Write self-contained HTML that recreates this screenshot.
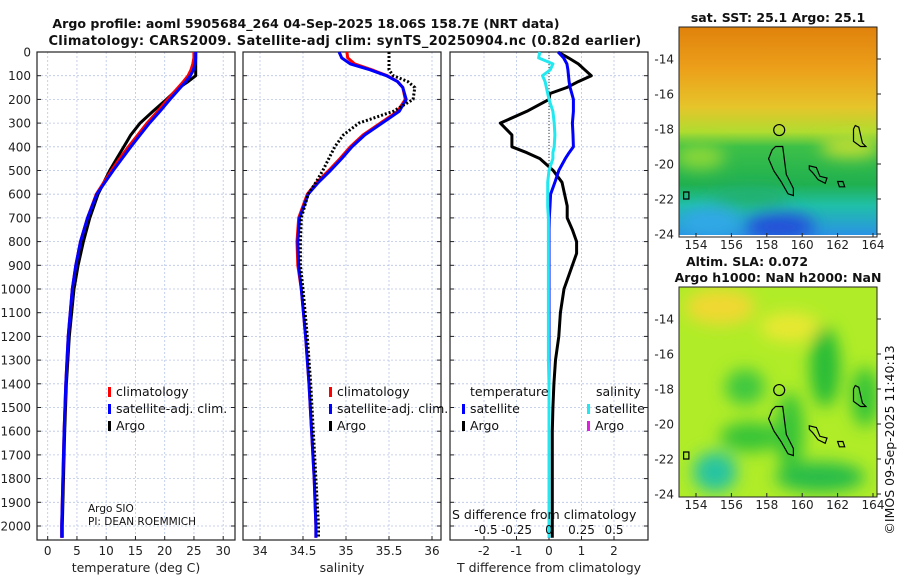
<!DOCTYPE html>
<html><head><meta charset="utf-8"><style>
body{margin:0;background:#fff;}
svg{display:block;font-family:"DejaVu Sans","Liberation Sans",sans-serif;}
</style></head><body>
<svg id="fig" width="900" height="580" viewBox="0 0 900 580" xmlns="http://www.w3.org/2000/svg">
<defs>
<linearGradient id="sstg" x1="0" y1="0" x2="0" y2="1">
<stop offset="0" stop-color="#e0820c"/><stop offset="0.2" stop-color="#eca01a"/><stop offset="0.38" stop-color="#e6c42a"/><stop offset="0.5" stop-color="#b0dc30"/><stop offset="0.57" stop-color="#3cc048"/><stop offset="0.75" stop-color="#20b050"/><stop offset="0.85" stop-color="#20c0a8"/><stop offset="1" stop-color="#2a90e8"/>
</linearGradient>
<filter id="blur" x="-50%" y="-50%" width="200%" height="200%"><feGaussianBlur stdDeviation="8"/></filter>
<clipPath id="clipTop"><rect x="679" y="27" width="198" height="208"/></clipPath>
<clipPath id="clipBot"><rect x="679" y="287" width="198" height="210"/></clipPath>
</defs>
<g id="root"></g>
</svg>
<script>
// ---- data ----
const depths   = [0,25,50,75,100,125,150,200,250,300,350,400,450,500,550,600,700,800,900,1000,1200,1400,1600,1800,2000,2050];
const tempClim = [25.0,25.0,24.8,24.5,24.0,23.2,22.3,20.5,18.8,17.0,15.4,13.8,12.3,10.9,9.6,8.3,6.8,5.6,4.8,4.2,3.5,3.1,2.8,2.6,2.4,2.4];
const tempSat  = [25.3,25.3,25.2,24.9,24.4,23.6,22.7,20.9,19.2,17.4,15.8,14.2,12.7,11.2,9.8,8.4,6.8,5.6,4.8,4.2,3.5,3.1,2.8,2.6,2.4,2.4];
const tempArgo = [25.3,25.3,25.3,25.3,25.3,24.0,22.5,20.3,18.0,15.8,14.2,13.0,11.8,10.6,9.6,8.6,7.2,6.1,5.2,4.5,3.7,3.2,2.9,2.7,2.5,2.5];
const salClim  = [35.01,35.02,35.1,35.3,35.48,35.6,35.66,35.69,35.6,35.4,35.2,35.05,34.93,34.8,34.66,34.55,34.45,34.43,34.44,34.48,34.53,34.57,34.6,34.63,34.65,34.65];
const salSat   = [34.92,34.95,35.05,35.28,35.47,35.6,35.66,35.7,35.62,35.42,35.22,35.07,34.95,34.82,34.68,34.56,34.46,34.44,34.45,34.48,34.53,34.57,34.6,34.63,34.65,34.65];
const salArgo  = [35.5,35.5,35.5,35.5,35.55,35.72,35.8,35.78,35.55,35.15,34.97,34.87,34.8,34.73,34.65,34.56,34.48,34.47,34.47,34.5,34.55,34.59,34.62,34.65,34.68,34.68];
const dDepths  = [0,25,50,75,100,125,150,175,200,250,300,350,400,425,450,500,550,600,650,700,750,800,850,900,1000,1100,1200,1300,1400,1500,1600,1800,2000,2050];
const dTArgo   = [0.28,0.6,0.9,1.1,1.3,0.9,0.55,0.03,0.0,-0.68,-1.5,-1.14,-1.14,-0.68,-0.28,0.13,0.4,0.48,0.56,0.56,0.72,0.85,0.85,0.72,0.46,0.35,0.3,0.2,0.15,0.12,0.1,0.1,0.1,0.1];
const dTSat    = [0.28,0.45,0.55,0.58,0.6,0.62,0.65,0.7,0.75,0.75,0.72,0.74,0.75,0.62,0.5,0.3,0.18,0.05,0.03,0.01,0.0,0.0,0.0,0.0,0.0,0.0,0.0,0.0,0.0,0.0,0.0,0.0,0.0,0.0];
const dSSat    = [-0.07,-0.08,0.03,0.01,-0.05,-0.03,-0.02,-0.01,0.0,0.03,0.04,0.045,0.04,0.03,0.03,0.0,-0.01,-0.01,-0.01,-0.005,-0.005,-0.005,-0.005,-0.005,-0.005,-0.005,-0.005,-0.005,0.0,0.0,0.0,0.0,0.0,0.0];
const depthTicks = [0,100,200,300,400,500,600,700,800,900,1000,1100,1200,1300,1400,1500,1600,1700,1800,1900,2000];
const tTicks = [0,5,10,15,20,25,30];
const sTicks = [34,34.5,35,35.5,36];
const dTicks = [-2,-1,0,1,2];
const dTickLabels = ["-2","-1","0","1","2"];
const sdTickLabels = ["-0.5","-0.25","0","0.25","0.5"];
const latTicks = [-14,-16,-18,-20,-22,-24];
const lonTicks = [154,156,158,160,162,164];

const NS="http://www.w3.org/2000/svg";
const root=document.getElementById('root');
function el(tag,attrs,parent,txt){const e=document.createElementNS(NS,tag);for(const k in attrs)e.setAttribute(k,attrs[k]);if(txt!==undefined)e.textContent=txt;(parent||root).appendChild(e);return e;}

const yTop=52, yPer=0.237;
const yD=d=>yTop+d*yPer;
const PBOT=540;
const panels=[
 {x0:37,x1:235,xs:v=>47.7+v*5.85,ticks:tTicks,labels:tTicks.map(String),title:"temperature (deg C)",name:"temperature"},
 {x0:243,x1:441,xs:v=>260+(v-34)*86,ticks:sTicks,labels:["34","34.5","35","35.5","36"],title:"salinity",name:"salinity"},
 {x0:450,x1:648,xs:v=>549+v*32.5,ticks:dTicks,labels:dTickLabels,title:"T difference from climatology",name:"difference"}
];
const sdx=v=>549+v*130;

panels.forEach((p,i)=>{
 const g=el('g',{});  
 depthTicks.forEach(d=>{el('line',{x1:p.x0,x2:p.x1,y1:yD(d),y2:yD(d),stroke:'#b8c4e8','stroke-width':0.8,'stroke-dasharray':'2,2'},g);});
 p.ticks.forEach(t=>{el('line',{x1:p.xs(t),x2:p.xs(t),y1:yTop,y2:PBOT,stroke:'#b8c4e8','stroke-width':0.8,'stroke-dasharray':'2,2'},g);});
 el('rect',{x:p.x0,y:yTop,width:p.x1-p.x0,height:PBOT-yTop,fill:'none',stroke:'#222','stroke-width':1.2},g);
 depthTicks.forEach(d=>{el('line',{x1:p.x0,x2:p.x0+4,y1:yD(d),y2:yD(d),stroke:'#222'},g);el('line',{x1:p.x1-4,x2:p.x1,y1:yD(d),y2:yD(d),stroke:'#222'},g);});
 p.ticks.forEach((t,k)=>{el('line',{x1:p.xs(t),x2:p.xs(t),y1:PBOT-4,y2:PBOT,stroke:'#222'},g);
   const tl=el('text',{x:p.xs(t),y:555,'font-size':12,'text-anchor':'middle',fill:'#222'},g,p.labels[k]);  });
 const tt=el('text',{x:(p.x0+p.x1)/2,y:572,'font-size':12.5,'text-anchor':'middle',fill:'#222'},g,p.title);
  
});
depthTicks.forEach(d=>{const t=el('text',{x:31,y:yD(d)+4.5,'font-size':12,'text-anchor':'end',fill:'#222'},root,String(d));});

function line(xs,vals,ds,attrs,name){
 const pts=vals.map((v,i)=>xs(v).toFixed(1)+','+yD(ds[i]).toFixed(1)).join(' ');
 const pl=el('polyline',Object.assign({points:pts,fill:'none','stroke-linejoin':'round'},attrs));
  
}
const P=panels;
line(P[0].xs,tempArgo,depths,{stroke:'#000','stroke-width':3},'temp-argo-line');
line(P[0].xs,tempClim,depths,{stroke:'#f00','stroke-width':3},'temp-climatology-line');
line(P[0].xs,tempSat,depths,{stroke:'#00f','stroke-width':3},'temp-satellite-line');
line(P[1].xs,salClim,depths,{stroke:'#f00','stroke-width':3},'sal-climatology-line');
line(P[1].xs,salSat,depths,{stroke:'#00f','stroke-width':3},'sal-satellite-line');
line(P[1].xs,salArgo,depths,{stroke:'#000','stroke-width':3,'stroke-dasharray':'2,2'},'sal-argo-line');
el('line',{x1:549,x2:549,y1:yTop,y2:yD(520),stroke:'#333','stroke-width':1,'stroke-dasharray':'1,2'});
line(P[2].xs,dTArgo,dDepths,{stroke:'#000','stroke-width':3},'tdiff-argo-line');
line(P[2].xs,dTSat,dDepths,{stroke:'#00f','stroke-width':3},'tdiff-satellite-line');
line(sdx,dSSat,dDepths,{stroke:'#22e8f0','stroke-width':3},'sdiff-satellite-line');

function legend(x,y,color,label,name){
 const g=el('g',{});  
 el('rect',{x:x,y:y-9,width:3,height:10,fill:color},g);
 el('text',{x:x+8,y:y,'font-size':12.5,fill:'#111'},g,label);
}
legend(108,396,'#f00','climatology','legend-climatology');
legend(108,413,'#00f','satellite-adj. clim.','legend-satellite');
legend(108,430,'#000','Argo','legend-argo');
legend(329,396,'#f00','climatology','legend-sal-climatology');
legend(329,413,'#00f','satellite-adj. clim.','legend-sal-satellite');
legend(329,430,'#000','Argo','legend-sal-argo');
el('text',{x:470,y:396,'font-size':12.5,fill:'#111'},root,'temperature');
el('text',{x:596,y:396,'font-size':12.5,fill:'#111'},root,'salinity');
legend(462,413,'#00f','satellite','legend-tdiff-satellite');
legend(462,430,'#000','Argo','legend-tdiff-argo');
legend(587,413,'#22e8f0','satellite','legend-sdiff-satellite');
legend(587,430,'#e020e0','Argo','legend-sdiff-argo');
el('text',{x:88,y:512,'font-size':10.5,fill:'#111'},root,'Argo SIO');
el('text',{x:88,y:525,'font-size':10.5,fill:'#111'},root,'PI: DEAN ROEMMICH');
el('text',{x:452,y:519,'font-size':12.5,fill:'#111'},root,'S difference from climatology');
dTicks.forEach((t,k)=>{el('text',{x:P[2].xs(t)+ (k==0?2:0),y:534,'font-size':12,'text-anchor':'middle',fill:'#111'},root,sdTickLabels[k]);});

const t1=el('text',{x:306,y:28,'font-size':12.6,'font-weight':'bold','text-anchor':'middle',fill:'#111'},root,'Argo profile: aoml 5905684_264 04-Sep-2025 18.06S 158.7E (NRT data)');
 
const t2=el('text',{x:345,y:45,'font-size':13,'font-weight':'bold','text-anchor':'middle','letter-spacing':'0.3',fill:'#111'},root,'Climatology: CARS2009. Satellite-adj clim: synTS_20250904.nc (0.82d earlier)');
 

const lonX=lon=>696+(lon-154)*17.7;
function drawMap(top,clip,kind,titleLines){
 const latY=lat=>top+32+(-14-lat)*17.5;
 const g=el('g',{'clip-path':'url(#'+clip+')'});
  
 if(kind==='sst'){
  el('rect',{x:679,y:top,width:198,height:210,fill:'url(#sstg)'},g);
  const b=el('g',{filter:'url(#blur)'},g);
  el('ellipse',{cx:780,cy:top+200,rx:35,ry:14,fill:'#2050d8'},b);
  el('ellipse',{cx:710,cy:top+195,rx:30,ry:14,fill:'#30a8e8'},b);
  el('ellipse',{cx:700,cy:top+130,rx:25,ry:12,fill:'#8cd838'},b);
  el('ellipse',{cx:850,cy:top+120,rx:30,ry:10,fill:'#c8e030'},b);
  el('ellipse',{cx:750,cy:top+170,rx:40,ry:10,fill:'#20b070'},b);
 } else {
  el('rect',{x:679,y:top,width:198,height:210,fill:'#b0ec28'},g);
  const b=el('g',{filter:'url(#blur)'},g);
  el('ellipse',{cx:720,cy:top+20,rx:35,ry:18,fill:'#f0d830'},b);
  el('ellipse',{cx:790,cy:top+40,rx:30,ry:15,fill:'#e8e830'},b);
  el('ellipse',{cx:745,cy:top+100,rx:20,ry:18,fill:'#40c840'},b);
  el('ellipse',{cx:825,cy:top+80,rx:15,ry:40,fill:'#28bc38'},b);
  el('ellipse',{cx:865,cy:top+110,rx:14,ry:30,fill:'#38c438'},b);
  el('ellipse',{cx:715,cy:top+185,rx:22,ry:20,fill:'#28c4a0'},b);
  el('ellipse',{cx:750,cy:top+150,rx:30,ry:15,fill:'#38c438'},b);
  el('ellipse',{cx:820,cy:top+190,rx:45,ry:15,fill:'#28bc48'},b);
  el('ellipse',{cx:790,cy:top+145,rx:14,ry:40,fill:'#38c438'},b);
 }
 const coast=[[[158.5,-19.0],[158.9,-19.0],[159.0,-19.8],[159.1,-20.6],[159.5,-21.4],[159.5,-21.8],[159.2,-21.7],[158.8,-21.0],[158.4,-20.4],[158.1,-19.7],[158.3,-19.2]],
  [[160.4,-20.1],[160.8,-20.2],[161.0,-20.7],[161.4,-20.8],[161.3,-21.1],[160.9,-20.9],[160.6,-20.5],[160.4,-20.3]],
  [[163.0,-17.8],[163.2,-17.9],[163.4,-18.8],[163.6,-19.0],[163.3,-19.0],[162.9,-18.7],[162.9,-18.0]],
  [[162.0,-21.0],[162.3,-21.0],[162.4,-21.3],[162.1,-21.3]],
  [[153.3,-21.6],[153.6,-21.6],[153.6,-22.0],[153.3,-22.0]]];
 coast.forEach(c=>{el('polygon',{points:c.map(p=>lonX(p[0]).toFixed(1)+','+latY(p[1]).toFixed(1)).join(' '),fill:'none',stroke:'#000','stroke-width':1.2},g);});
 el('circle',{cx:lonX(158.7),cy:latY(-18.06),r:5.5,fill:'none',stroke:'#000','stroke-width':1.2},g);
 el('rect',{x:679,y:top,width:198,height:210,fill:'none',stroke:'#222'});
 latTicks.forEach(l=>{el('line',{x1:877,x2:881,y1:latY(l),y2:latY(l),stroke:'#222'});el('text',{x:674,y:latY(l)+4.5,'font-size':12,'text-anchor':'end',fill:'#222'},root,String(l));});
 lonTicks.forEach(l=>{el('line',{x1:lonX(l),x2:lonX(l),y1:top+206,y2:top+210,stroke:'#222'});el('text',{x:lonX(l),y:top+222,'font-size':12,'text-anchor':'middle',fill:'#222'},root,String(l));});
 titleLines.forEach((s,i)=>{const tt=el('text',{x:titleLines.length>1&&i==0?747:778,y:top-(titleLines.length-i)*16+11,'font-size':12.5,'font-weight':'bold','text-anchor':'middle',fill:'#111'},root,s);});
}
drawMap(27,'clipTop','sst',['sat. SST: 25.1 Argo: 25.1']);
drawMap(287,'clipBot','sla',['Altim. SLA: 0.072','Argo h1000: NaN h2000: NaN']);
const cr=el('text',{x:0,y:0,'font-size':12.5,'text-anchor':'middle',fill:'#111',transform:'translate(894,440) rotate(-90)'},root,'©IMOS 09-Sep-2025 11:40:13');
 
</script>
</body></html>
